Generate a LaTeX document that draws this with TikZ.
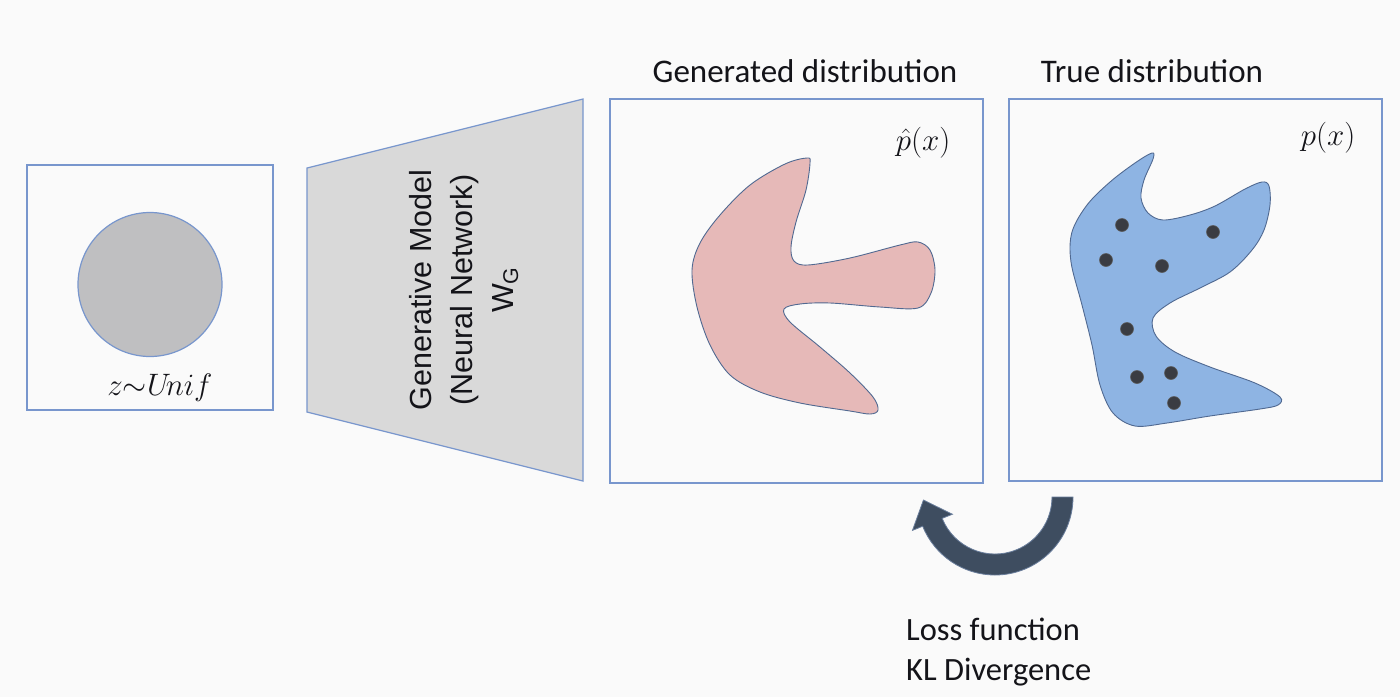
\RequirePackage{fix-cm}
\documentclass[tikz,border=0pt]{standalone}
\usepackage{fontspec}
\usetikzlibrary{calc}
\newfontfamily\carlito{Carlito}
\newfontfamily\arialf{Liberation Sans}
\definecolor{bg}{RGB}{250,250,250}
\definecolor{boxline}{RGB}{120,150,205}
\definecolor{blobline}{RGB}{80,105,145}
\definecolor{circfill}{RGB}{191,191,193}
\definecolor{trapfill}{RGB}{217,217,217}
\definecolor{pinkfill}{RGB}{230,185,184}
\definecolor{bluefill}{RGB}{142,180,227}
\definecolor{dotfill}{RGB}{58,60,66}
\definecolor{arrowfill}{RGB}{62,77,96}
\definecolor{arrowline}{RGB}{105,125,155}
\definecolor{txt}{RGB}{20,20,25}
\tikzset{
  panel/.style={draw=boxline, line width=1.2pt, fill=bg},
  blob/.style={draw=blobline, line width=0.9pt},
  sample/.style={circle, fill=dotfill, draw=gray!70!black, line width=0.6pt, minimum size=13pt, inner sep=0pt},
  title/.style={font=\carlito\fontsize{33}{40}\selectfont, text=txt, inner sep=0pt},
  mathlbl/.style={font=\fontsize{31}{37}\selectfont, text=txt, inner sep=0pt},
}
\begin{document}
\begin{tikzpicture}[x=1pt,y=-1pt]
\useasboundingbox (0,0) rectangle (1400,697);
\fill[bg] (0,0) rectangle (1400,697);

% input box
\node[panel, minimum width=246pt, minimum height=245pt, inner sep=0pt] (inbox) at (150,287.5) {};
\node[circle, fill=circfill, draw=boxline, line width=1.2pt, minimum size=144pt, inner sep=0pt] (zcirc) at (150,284.5) {};
\node[mathlbl] (zlbl) at (160,388) {$z{\sim}U\!nif$};

% generator trapezoid
\draw[draw=boxline, line width=1.2pt, fill=trapfill] (307,168) -- (583,99) -- (583,481) -- (307,412) -- cycle;
\node[rotate=90, align=center, font=\arialf\fontsize{30.5}{41}\selectfont, text=txt, inner sep=0pt] (gen) at (464,290)
  {Generative Model\\(Neural Network)\\W\textsubscript{G}};

% generated distribution
\node[panel, minimum width=373pt, minimum height=384pt, inner sep=0pt] (genbox) at (796.5,291) {};
\node[title, anchor=base] (gentitle) at (805,82) {Generated distribution};
\node[mathlbl] (phat) at (923,143) {$\hat{p}(x)$};
\draw[blob, fill=pinkfill] plot[smooth cycle, tension=0.55] coordinates {
  (807,158) (810,163) (806,190) (796,222) (791,247) (794,261) (808,265) (850,258) (900,245) (918,242)
  (930,250) (935,270) (931,293) (918,308) (880,307) (830,303) (800,304) (784,309) (790,322)
  (820,347) (850,373) (873,397) (878,410) (870,414) (850,411) (800,403) (760,392) (730,375)
  (710,345) (697,307) (692,270) (700,243) (720,215) (750,185) (785,164)};

% true distribution
\node[panel, minimum width=373pt, minimum height=382pt, inner sep=0pt] (truebox) at (1195.5,290) {};
\node[title, anchor=base] (truetitle) at (1152,82) {True distribution};
\node[mathlbl] (plbl) at (1328,138) {$p(x)$};
\draw[blob, fill=bluefill] plot[smooth cycle, tension=0.55] coordinates {
  (1152,153) (1153,159) (1144,180) (1141,198) (1148,213) (1163,220) (1190,215) (1215,206)
  (1245,189) (1262,182) (1269,186) (1270,205) (1264,230) (1252,250) (1230,272) (1200,288) (1170,303)
  (1153,318) (1156,336) (1175,352) (1210,367) (1255,383) (1280,397) (1278,405) (1260,409)
  (1210,416) (1167,423) (1135,426) (1113,413) (1100,385) (1092,345) (1082,305) (1071,262)
  (1072,232) (1087,205) (1110,182) (1135,163)};
\foreach \i/\p in {1/{(1122,225)},2/{(1213,232)},3/{(1106,260)},4/{(1162,266)},5/{(1127,329)},6/{(1137,377)},7/{(1171,373)},8/{(1174,403)}}
  \node[sample] (s\i) at \p {};

% curved arrow (loss)
\coordinate (c) at (995,497);
\fill[arrowfill, draw=arrowline, line width=0.8pt]
  ($(c)+(0:78pt)$) arc[start angle=0, end angle=-158, radius=78pt]
  -- ($(c)+(-158:89pt)$)
  -- ($(c)+(-158:67.5pt)+(112:24pt)$)
  -- ($(c)+(-158:46pt)$)
  -- ($(c)+(-158:57pt)$) arc[start angle=-158, end angle=0, radius=57pt]
  -- cycle;

\node[anchor=base west, align=left, font=\carlito\fontsize{32.5}{40}\selectfont, text=txt, inner sep=0pt] (loss) at (906,680)
  {Loss function\\KL Divergence};
\end{tikzpicture}
\end{document}
